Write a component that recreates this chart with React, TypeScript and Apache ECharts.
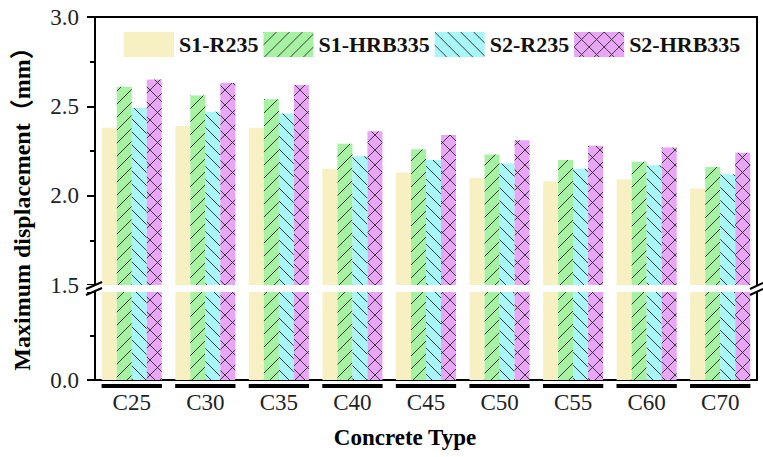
import React, { useEffect, useRef } from 'react';
import * as echarts from 'echarts';

const categories = ['C25', 'C30', 'C35', 'C40', 'C45', 'C50', 'C55', 'C60', 'C70'];
const seriesNames = ['S1-R235', 'S1-HRB335', 'S2-R235', 'S2-HRB335'];
const s1R235 = [2.38, 2.39, 2.38, 2.15, 2.13, 2.10, 2.08, 2.09, 2.04];
const s1HRB335 = [2.61, 2.56, 2.54, 2.29, 2.26, 2.23, 2.20, 2.19, 2.16];
const s2R235 = [2.49, 2.47, 2.46, 2.22, 2.20, 2.18, 2.15, 2.17, 2.12];
const s2HRB335 = [2.65, 2.63, 2.62, 2.36, 2.34, 2.31, 2.28, 2.27, 2.24];
const seriesValues = [s1R235, s1HRB335, s2R235, s2HRB335];
const upperRange = [1.5, 3.0];
const lowerRange = [0.0, 1.5];
const yTitle = 'Maximum displacement（mm）';
const xTitle = 'Concrete Type';

const SERIF = 'Liberation Serif, Times New Roman, Noto Sans CJK SC, serif';

function tile(fill: string, kind: string, s: number) {
  const st = 'stroke="#2a2a2a" stroke-width="0.9"';
  let lines = '';
  const slash = `<line x1="${-1}" y1="${s + 1}" x2="${s + 1}" y2="${-1}" ${st}/>`;
  const back = `<line x1="${-1}" y1="${-1}" x2="${s + 1}" y2="${s + 1}" ${st}/>`;
  if (kind === 'slash') lines = slash;
  if (kind === 'back') lines = back;
  if (kind === 'cross') lines = slash + back;
  const svg = `<svg xmlns="http://www.w3.org/2000/svg" width="${s}" height="${s}"><rect width="${s}" height="${s}" fill="${fill}"/>${lines}</svg>`;
  return {
    image: 'data:image/svg+xml;charset=utf-8,' + encodeURIComponent(svg),
    repeat: 'repeat',
    imageWidth: s,
    imageHeight: s,
  } as any;
}

export default function App() {
  const ref = useRef<HTMLDivElement>(null);
  useEffect(() => {
    if (!ref.current) return;
    const chart = echarts.init(ref.current, null, { renderer: 'svg' });
    const fills = [
      '#f6f0c2',
      tile('#a6f2a2', 'slash', 13),
      tile('#a8f6f8', 'back', 13),
      tile('#eaa6f6', 'cross', 15),
    ];
    const barBase = (gi: number) =>
      seriesNames.map((name, i) => ({
        name,
        type: 'bar',
        xAxisIndex: gi === 0 ? 0 : 2,
        yAxisIndex: gi === 0 ? 0 : 2,
        data: seriesValues[i],
        barWidth: 15,
        barGap: '0%',
        clip: true,
        itemStyle: { color: fills[i] },
        emphasis: { disabled: true },
      }));

    const option: any = {
      animation: false,
      legend: {
        data: seriesNames,
        left: 119,
        top: 27,
        itemWidth: 50,
        itemHeight: 25,
        itemGap: 5,
        icon: 'rect',
        textStyle: { fontFamily: SERIF, fontWeight: 'bold', fontSize: 22, color: '#111' },
      },
      grid: [
        { left: 95, right: 6, top: 17, bottom: 457 - 285 },
        { left: 95, right: 6, top: 292, bottom: 457 - 380 },
      ],
      xAxis: [
        { type: 'category', gridIndex: 0, data: categories, position: 'bottom', axisLine: { show: false }, axisTick: { show: false }, axisLabel: { show: false } },
        { type: 'category', gridIndex: 0, data: categories, position: 'top', axisLine: { show: true, lineStyle: { color: '#000', width: 2 } }, axisTick: { show: false }, axisLabel: { show: false } },
        {
          type: 'category', gridIndex: 1, data: categories, position: 'bottom',
          axisLine: { show: true, lineStyle: { color: '#000', width: 2 } },
          axisTick: { show: false },
          axisLabel: { show: true, fontFamily: SERIF, fontSize: 23, color: '#222', margin: 11 },
        },
      ],
      yAxis: [
        {
          type: 'value', gridIndex: 0, min: upperRange[0], max: upperRange[1], interval: 0.5,
          axisLine: { show: true, lineStyle: { color: '#000', width: 2 } },
          axisTick: { show: true, length: 8, lineStyle: { color: '#000', width: 2 } },
          minorTick: { show: true, splitNumber: 2, length: 5, lineStyle: { color: '#000', width: 2 } },
          splitLine: { show: false },
          axisLabel: { fontFamily: SERIF, fontSize: 23, color: '#222', margin: 16, formatter: (v: number) => v.toFixed(1) },
        },
        {
          type: 'value', gridIndex: 0, position: 'right', min: upperRange[0], max: upperRange[1],
          axisLine: { show: true, lineStyle: { color: '#000', width: 2 } },
          axisTick: { show: false }, axisLabel: { show: false }, splitLine: { show: false },
        },
        {
          type: 'value', gridIndex: 1, min: lowerRange[0], max: lowerRange[1], interval: 1.5,
          axisLine: { show: true, lineStyle: { color: '#000', width: 2 } },
          axisTick: { show: true, length: 8, lineStyle: { color: '#000', width: 2 } },
          minorTick: { show: true, splitNumber: 2, length: 5, lineStyle: { color: '#000', width: 2 } },
          splitLine: { show: false },
          axisLabel: {
            fontFamily: SERIF, fontSize: 23, color: '#222', margin: 16,
            formatter: (v: number) => (v >= lowerRange[1] ? '' : v.toFixed(1)),
          },
        },
        {
          type: 'value', gridIndex: 1, position: 'right', min: lowerRange[0], max: lowerRange[1],
          axisLine: { show: true, lineStyle: { color: '#000', width: 2 } },
          axisTick: { show: false }, axisLabel: { show: false }, splitLine: { show: false },
        },
      ],
      series: [
        ...barBase(0),
        ...barBase(1),
        {
          type: 'custom',
          xAxisIndex: 2,
          yAxisIndex: 2,
          clip: false,
          silent: true,
          data: categories.map((c, i) => [i, 0]),
          renderItem: (params: any, api: any) => {
            const p = api.coord([api.value(0), 0]);
            const w = api.size([1, 0])[0] * 0.82;
            return {
              type: 'rect',
              shape: { x: p[0] - w / 2, y: p[1] + 4, width: w, height: 4 },
              style: { fill: '#000' },
            };
          },
        },
      ],
      graphic: [
        { type: 'rect', shape: { x: 86, y: 285, width: 20, height: 7 }, style: { fill: '#fff' }, z: 100 },
        { type: 'rect', shape: { x: 748, y: 285, width: 15, height: 7 }, style: { fill: '#fff' }, z: 100 },
        { type: 'line', shape: { x1: 86, y1: 289, x2: 102, y2: 282 }, style: { stroke: '#000', lineWidth: 2 }, z: 101 },
        { type: 'line', shape: { x1: 86, y1: 295, x2: 102, y2: 288 }, style: { stroke: '#000', lineWidth: 2 }, z: 101 },
        { type: 'line', shape: { x1: 750, y1: 289, x2: 763, y2: 283 }, style: { stroke: '#000', lineWidth: 2 }, z: 101 },
        { type: 'line', shape: { x1: 750, y1: 295, x2: 763, y2: 289 }, style: { stroke: '#000', lineWidth: 2 }, z: 101 },
        {
          type: 'text', x: 22, y: 203, rotation: Math.PI / 2,
          style: { text: yTitle, fontFamily: SERIF, fontWeight: 'bold', fontSize: 24, fill: '#000', align: 'center', verticalAlign: 'middle' },
        },
        {
          type: 'text', x: 405, y: 437,
          style: { text: xTitle, fontFamily: SERIF, fontWeight: 'bold', fontSize: 23, fill: '#000', align: 'center', verticalAlign: 'middle' },
        },
      ],
    };
    chart.setOption(option);
    return () => chart.dispose();
  }, []);
  return <div ref={ref} style={{ width: 763, height: 457, position: 'absolute', left: 0, top: 0 }} />;
}
